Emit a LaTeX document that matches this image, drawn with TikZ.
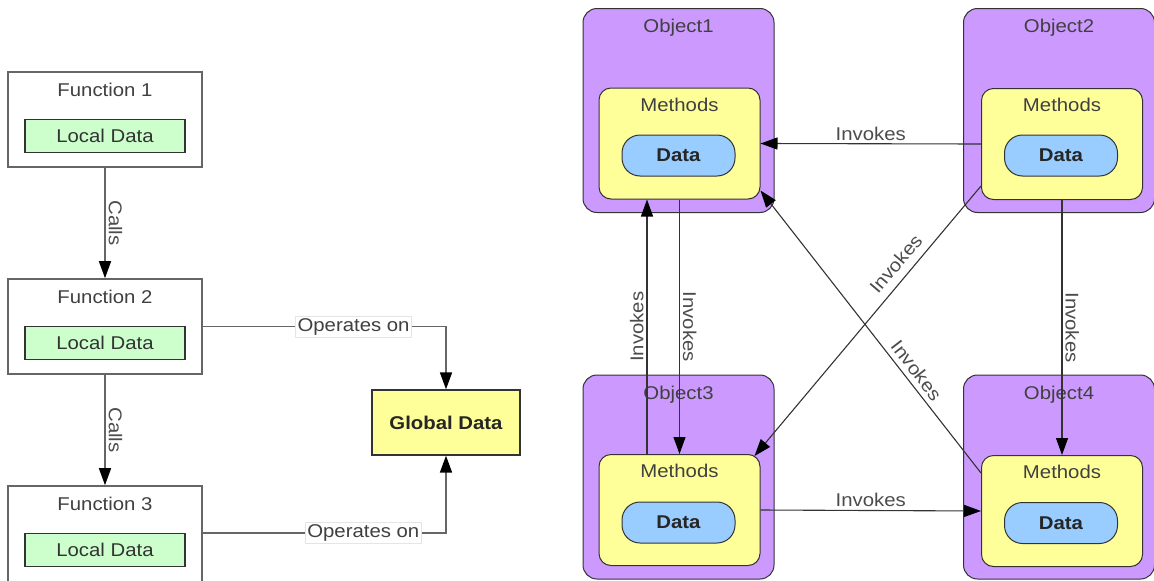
\documentclass[tikz,border=0pt]{standalone}
\usepackage{fontspec}
\setmainfont{Liberation Sans}[FakeStretch=1.1]
\usetikzlibrary{arrows.meta,calc}

\definecolor{objfill}{HTML}{CC99FF}
\definecolor{methfill}{HTML}{FFFF99}
\definecolor{datafill}{HTML}{99CCFF}
\definecolor{localfill}{HTML}{CCFFCC}
\definecolor{globalfill}{HTML}{FFFF99}

\newcommand{\basefont}{\fontsize{18.5}{22}\selectfont}

\begin{document}
\begin{tikzpicture}[x=1pt,y=-1pt,
  every node/.append style={font=\basefont},
  funcbox/.style={draw=black!60, line width=1.6pt, fill=white,
    minimum width=194pt, minimum height=95pt, inner sep=0pt},
  localbox/.style={draw=black!80, line width=1.3pt, fill=localfill,
    minimum width=160pt, minimum height=33pt, inner sep=0pt, text=black!80},
  globalbox/.style={draw=black!80, line width=1.3pt, fill=globalfill,
    minimum width=148pt, minimum height=65pt, inner sep=0pt,
    font=\basefont\bfseries, text=black!85},
  objbox/.style={draw=black!80, line width=1pt, fill=objfill,
    rounded corners=14pt, minimum width=191pt, minimum height=204pt, inner sep=0pt},
  methbox/.style={draw=black!80, line width=1pt, fill=methfill,
    rounded corners=12pt, minimum width=161pt, minimum height=111pt, inner sep=0pt},
  databox/.style={draw=black!80, line width=1pt, fill=datafill,
    rounded corners=18pt, minimum width=113pt, minimum height=41pt, inner sep=0pt,
    font=\basefont\bfseries, text=black!85},
  title/.style={text=black!75, inner sep=0pt},
  flow/.style={draw=black!60, line width=1.6pt,
    -{Triangle[length=17pt,width=12pt,black]}},
  call/.style={draw=black!80, line width=1.1pt,
    -{Triangle[length=17pt,width=12pt,black]}},
  lab/.style={text=black!70, inner sep=3pt},
  opbox/.style={fill=white, draw=black!10, line width=0.6pt, inner sep=2pt, text=black!75}
]
\useasboundingbox (0,0) rectangle (1154,581);

% ---------- procedural side ----------
\node[funcbox] (f1) at (105,119.5) {};
\node[title] (f1t) at ([yshift=-19pt]f1.north) {Function 1};
\node[localbox] (l1) at ([yshift=-64.5pt]f1.north) {Local Data};

\node[funcbox] (f2) at (105,326.5) {};
\node[title] (f2t) at ([yshift=-19pt]f2.north) {Function 2};
\node[localbox] (l2) at ([yshift=-64.5pt]f2.north) {Local Data};

\node[funcbox, minimum height=100pt] (f3) at (105,536) {};
\node[title] (f3t) at ([yshift=-19pt]f3.north) {Function 3};
\node[localbox] (l3) at ([yshift=-64.5pt]f3.north) {Local Data};

\node[globalbox] (gd) at (446,422.5) {Global Data};

\draw[flow] (f1) -- node[lab, midway, rotate=-90, anchor=south] {Calls} (f2);
\draw[flow] (f2) -- node[lab, midway, rotate=-90, anchor=south] {Calls} (f3);
\draw[flow] (f2.east) -| node[opbox, pos=0.31] {Operates on} (gd.north);
\draw[flow] (f3.east |- 533,533) -| node[opbox, pos=0.33] {Operates on} (gd.south);

% ---------- object side ----------
\node[objbox] (o1) at (678.5,110.5) {};
\node[title] (o1t) at ([yshift=-20pt]o1.north) {Object1};
\node[methbox] (m1) at (679.5,143.5) {};
\node[title] (m1t) at ([yshift=-17pt]m1.north) {Methods};
\node[databox] (d1) at (678.5,155.5) {Data};

\node[objbox] (o2) at (1059,110.5) {};
\node[title] (o2t) at ([yshift=-20pt]o2.north) {Object2};
\node[methbox] (m2) at (1062,144) {};
\node[title] (m2t) at ([yshift=-17pt]m2.north) {Methods};
\node[databox] (d2) at (1061,155.5) {Data};

\node[objbox] (o3) at (678.5,477) {};
\node[title] (o3t) at ([yshift=-20pt]o3.north) {Object3};
\node[methbox] (m3) at (679.5,510) {};
\node[title] (m3t) at ([yshift=-17pt]m3.north) {Methods};
\node[databox] (d3) at (678.5,522.5) {Data};

\node[objbox] (o4) at (1059,477) {};
\node[title] (o4t) at ([yshift=-20pt]o4.north) {Object4};
\node[methbox] (m4) at (1062,511) {};
\node[title] (m4t) at ([yshift=-17pt]m4.north) {Methods};
\node[databox] (d4) at (1061,523) {Data};

% invocations between objects
\draw[call] (m2.west) -- node[lab, midway, above] {Invokes} (m1.east);
\draw[call] (m3.east) -- node[lab, midway, above] {Invokes} (m4.west);
\draw[call] ([xshift=-32.5pt]m3.north) --
  node[lab, midway, rotate=90, anchor=south] {Invokes} ([xshift=-32.5pt]m1.south);
\draw[call] (m1.south) --
  node[lab, midway, rotate=-90, anchor=south] {Invokes} (m3.north);
\draw[call] (m2.south) --
  node[lab, midway, rotate=-90, anchor=south] {Invokes} (m4.north);
\draw[call] ([yshift=14pt]m2.south west) --
  node[lab, pos=0.325, rotate=49.6, anchor=south, inner ysep=8pt] {Invokes}
  ([xshift=-6pt,yshift=-2pt]m3.north east);
\draw[call] ([yshift=-18pt]m4.north west) --
  node[lab, pos=0.337, rotate=-52.4, anchor=south, inner ysep=5pt] {Invokes}
  ([yshift=9pt]m1.south east);
\end{tikzpicture}
\end{document}
